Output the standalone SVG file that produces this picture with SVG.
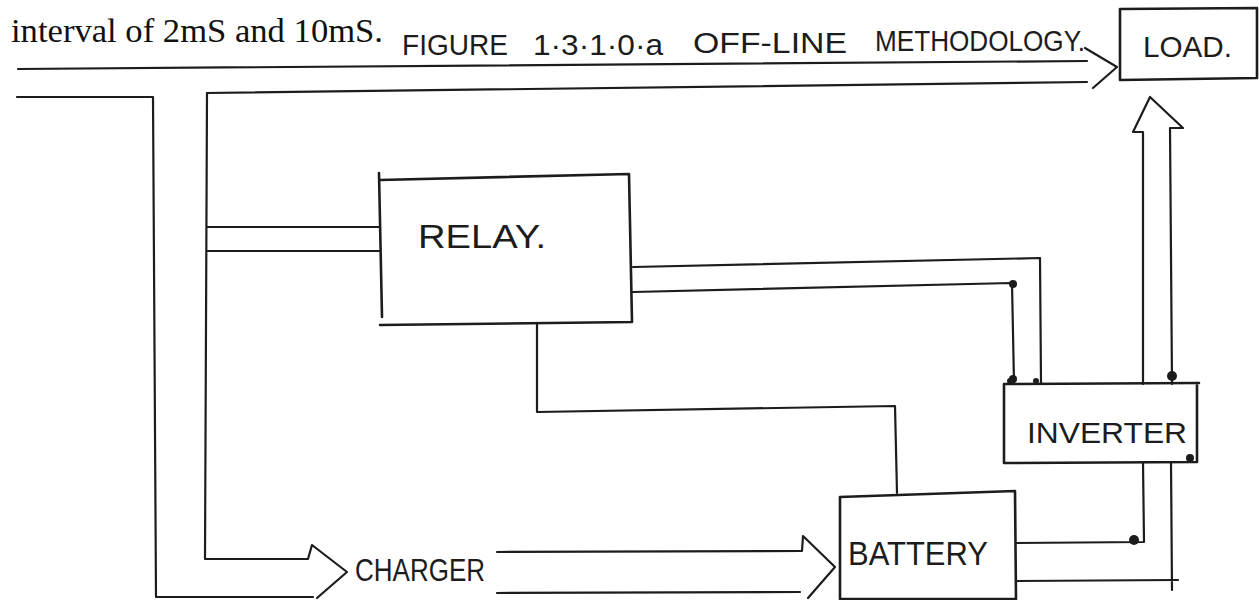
<svg xmlns="http://www.w3.org/2000/svg" width="1259" height="600" viewBox="0 0 1259 600">
<style>
.ln{fill:none;stroke:#1c1c1c;stroke-width:2.2;stroke-linecap:round;stroke-linejoin:round}
.bx{fill:none;stroke:#1c1c1c;stroke-width:2.6;stroke-linecap:round;stroke-linejoin:round}
.hw{font-family:"Liberation Sans","DejaVu Sans",sans-serif;fill:#1c1c1c}
.serif{font-family:"Liberation Serif","Times New Roman",serif;fill:#111}
.blob{fill:#1c1c1c}
</style>
<rect width="1259" height="600" fill="#ffffff"/>
<text class="serif" x="11" y="42" font-size="33" textLength="372" lengthAdjust="spacingAndGlyphs">interval of 2mS and 10mS.</text>
<text id="title" class="hw" font-size="30"><tspan x="402" y="55" textLength="106" lengthAdjust="spacingAndGlyphs">FIGURE</tspan><tspan x="533" y="55" textLength="130" lengthAdjust="spacingAndGlyphs">1·3·1·0·a</tspan><tspan x="693" y="53" textLength="154" lengthAdjust="spacingAndGlyphs">OFF-LINE</tspan><tspan x="875" y="51" textLength="210" lengthAdjust="spacingAndGlyphs">METHODOLOGY.</tspan></text>

<g id="load">
<path class="bx" d="M1120,9 L1257,8 L1257,78 L1120,80 Z"/>
<text class="hw" x="1143" y="57" font-size="30" textLength="89" lengthAdjust="spacingAndGlyphs">LOAD.</text>
</g>
<g id="relay">
<path class="bx" d="M379,173 L382,317 M380,180 L629,174 L632,322 L380,325"/>
<text class="hw" x="418" y="248" font-size="34" textLength="128" lengthAdjust="spacingAndGlyphs">RELAY.</text>
</g>
<g id="inverter">
<path class="bx" d="M1004,384 L1199,383 M1197,383 L1197,462 L1004,463 L1004,384"/>
<text class="hw" x="1027" y="443" font-size="29" textLength="160" lengthAdjust="spacingAndGlyphs">INVERTER</text>
</g>
<g id="battery">
<path class="bx" d="M840,599 L840,497 L1015,491 L1016,599 L840,599"/>
<text class="hw" x="848" y="565" font-size="33" textLength="140" lengthAdjust="spacingAndGlyphs">BATTERY</text>
</g>
<g id="charger">
<text class="hw" x="355" y="581" font-size="31" textLength="130" lengthAdjust="spacingAndGlyphs">CHARGER</text>
</g>

<g id="connectors">
<path class="ln" d="M18,69 L1087,61"/>
<path class="ln" d="M207,93 L1087,82"/>
<path class="ln" d="M1085,48 L1117,67 L1093,88"/>
<path class="ln" d="M17,97 L153,97 L156,597 L313,597"/>
<path class="ln" d="M207,93 L205,559 L308,559 L312,545 L347,572 L317,598"/>
<path class="ln" d="M207,227 L380,227 M207,251 L380,251"/>
<path class="ln" d="M633,267 L1040,258 L1041,383"/>
<path class="ln" d="M633,292 L1012,283 L1014,383"/>
<path class="ln" d="M537,323 L537,412 L895,406 L897,493"/>
<path class="ln" d="M1143,384 L1143,132 L1133,132 L1150,97 L1183,128 L1170,128 L1172,384"/>
<path class="ln" d="M1143,462 L1144,542 L1016,543"/>
<path class="ln" d="M1171,462 L1172,590 M1016,581 L1178,580"/>
<path class="ln" d="M497,552 L802,551 L803,536 L835,567 L808,598 M497,593 L800,592"/>
<circle class="blob" cx="1013" cy="284" r="4"/>
<circle class="blob" cx="1013" cy="379" r="4"/>
<circle class="blob" cx="1036" cy="381" r="3"/>
<circle class="blob" cx="1172" cy="376" r="5"/>
<circle class="blob" cx="1190" cy="458" r="4"/>
<circle class="blob" cx="1134" cy="540" r="5"/>
<circle class="blob" cx="1010" cy="381" r="3"/>
</g>
</svg>
